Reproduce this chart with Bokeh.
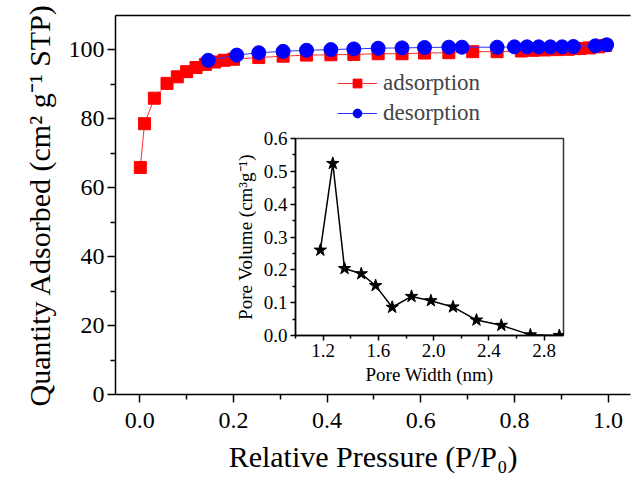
from bokeh.plotting import figure
from bokeh.models import (Range1d, LinearAxis, FixedTicker, Legend, LegendItem,
                          NumeralTickFormatter)
from bokeh.layouts import column
from bokeh.embed import file_html
from bokeh.resources import INLINE

# --- main isotherm data ---
ads_x = [0.001, 0.01, 0.031, 0.058, 0.08, 0.10, 0.12, 0.14, 0.16, 0.18, 0.20,
         0.254, 0.306, 0.356, 0.408, 0.457, 0.509, 0.560, 0.608, 0.660, 0.711,
         0.763, 0.815, 0.84, 0.865, 0.89, 0.915, 0.94, 0.96, 0.98, 0.995]
ads_y = [65.9, 78.6, 86.0, 90.3, 92.2, 93.7, 94.9, 95.8, 96.5, 97.0, 97.3,
         97.8, 98.2, 98.5, 98.6, 98.7, 98.9, 98.9, 99.1, 99.2, 99.5,
         99.5, 99.7, 99.9, 100.0, 100.1, 100.2, 100.4, 100.6, 100.9, 101.3]
des_x = [0.146, 0.207, 0.254, 0.306, 0.356, 0.408, 0.457, 0.509, 0.560, 0.608,
         0.660, 0.688, 0.763, 0.80, 0.827, 0.852, 0.877, 0.902, 0.926, 0.973, 0.997]
des_y = [97.0, 98.5, 99.2, 99.6, 99.9, 100.1, 100.3, 100.5, 100.6, 100.7,
         100.8, 100.8, 100.8, 100.9, 100.9, 100.9, 100.9, 100.9, 101.0, 101.2, 101.5]

x_major = [0.0, 0.2, 0.4, 0.6, 0.8, 1.0]
x_minor = [0.1, 0.3, 0.5, 0.7, 0.9]
y_major = [0, 20, 40, 60, 80, 100]
y_minor = [10, 30, 50, 70, 90]
x_title = "Relative Pressure (P/P\u2080)"
y_title = "Quantity Adsorbed (cm\u00b2 g\u207b\u00b9 STP)"

# --- inset pore size distribution ---
pore_w = [1.18, 1.27, 1.355, 1.476, 1.58, 1.70, 1.84, 1.98, 2.14, 2.31, 2.49, 2.70, 2.91]
pore_v = [0.26, 0.524, 0.204, 0.188, 0.152, 0.086, 0.119, 0.106, 0.087, 0.047, 0.031, 0.002, 0.0]
ix_major = [1.2, 1.6, 2.0, 2.4, 2.8]
ix_minor = [1.0, 1.4, 1.8, 2.2, 2.6]
iy_major = [0.0, 0.1, 0.2, 0.3, 0.4, 0.5, 0.6]
iy_minor = [0.05, 0.15, 0.25, 0.35, 0.45, 0.55]

FONT = "'Liberation Serif'"

p = figure(width=632, height=477, output_backend="svg", toolbar_location=None,
           x_range=Range1d(-0.052, 1.048), y_range=Range1d(0, 110),
           min_border_left=115, min_border_right=2, min_border_top=15,
           min_border_bottom=83)
p.outline_line_color = None
p.grid.visible = False
p.background_fill_color = "white"
p.border_fill_color = "white"

l1 = p.line(ads_x, ads_y, line_color="#ff3030", line_width=1)
s1 = p.scatter(ads_x, ads_y, marker="square", size=12, fill_color="#ff0000",
               line_color="#ff0000")
l2 = p.line(des_x, des_y, line_color="#3030ff", line_width=1)
s2 = p.scatter(des_x, des_y, marker="circle", size=14, fill_color="#0000ff",
               line_color="#0000ff")

def style_axis(ax, size_lab, size_title, mt=8, mi=5):
    ax.axis_line_color = "black"
    ax.axis_line_width = 1.5
    ax.major_tick_line_color = "black"
    ax.major_tick_line_width = 1.5
    ax.minor_tick_line_color = "black"
    ax.minor_tick_line_width = 1.5
    ax.major_tick_in = 0
    ax.major_tick_out = mt
    ax.minor_tick_in = 0
    ax.minor_tick_out = mi
    ax.major_label_text_font = FONT
    ax.major_label_text_font_size = size_lab
    ax.major_label_text_color = "black"
    ax.axis_label_text_font = FONT
    ax.axis_label_text_font_size = size_title
    ax.axis_label_text_font_style = "normal"
    ax.axis_label_text_color = "black"

xa = p.xaxis[0]
xa.ticker = FixedTicker(ticks=x_major, minor_ticks=x_minor)
xa.formatter = NumeralTickFormatter(format="0.0")
xa.axis_label = x_title
style_axis(xa, "24px", "30px")
xa.major_label_standoff = 10
xa.axis_label_standoff = 9

ya = p.yaxis[0]
ya.ticker = FixedTicker(ticks=y_major, minor_ticks=y_minor)
ya.axis_label = y_title
style_axis(ya, "24px", "30px")
ya.major_label_standoff = 3
ya.axis_label_standoff = 10

top = LinearAxis(ticker=FixedTicker(ticks=[]), axis_line_color="black",
                 axis_line_width=1.5, major_tick_line_color=None,
                 minor_tick_line_color=None, major_label_text_font_size="0px")
p.add_layout(top, "above")

legend = Legend(items=[LegendItem(label="adsorption", renderers=[l1, s1]),
                       LegendItem(label="desorption", renderers=[l2, s2])],
                location=(222, 268), background_fill_alpha=0,
                border_line_color=None, label_text_font=FONT,
                label_text_font_size="23px", glyph_width=40, glyph_height=22,
                spacing=4, padding=0, margin=0, label_standoff=6)
p.add_layout(legend)

# --- inset ---
ins = figure(width=385, height=264, output_backend="svg", toolbar_location=None,
             x_range=Range1d(1.0, 2.94), y_range=Range1d(0, 0.6),
             min_border_left=115, min_border_right=2, min_border_top=10,
             min_border_bottom=57)
ins.outline_line_color = "#333333"
ins.outline_line_width = 1.5
ins.grid.visible = False
ins.background_fill_color = "white"
ins.border_fill_alpha = 0
ins.line(pore_w, pore_v, line_color="black", line_width=1.5)
ins.scatter(pore_w, pore_v, marker="star", size=13, fill_color="black",
            line_color="black")
ixa = ins.xaxis[0]
ixa.ticker = FixedTicker(ticks=ix_major, minor_ticks=ix_minor)
ixa.formatter = NumeralTickFormatter(format="0.0")
ixa.axis_label = "Pore Width (nm)"
style_axis(ixa, "19px", "19px", mt=5, mi=3)
ixa.major_label_standoff = 3
ixa.axis_label_standoff = 4
iya = ins.yaxis[0]
iya.ticker = FixedTicker(ticks=iy_major, minor_ticks=iy_minor)
iya.formatter = NumeralTickFormatter(format="0.0")
iya.axis_label = "Pore Volume (cm\u00b3g\u207b\u00b9)"
style_axis(iya, "19px", "19px", mt=5, mi=3)
iya.major_label_standoff = 3
iya.axis_label_standoff = 5

ins.styles = {"position": "absolute", "left": "180px", "top": "128px",
              "z-index": "10"}

layout = column(p, ins)
open("out.html", "w").write(file_html(layout, INLINE))
